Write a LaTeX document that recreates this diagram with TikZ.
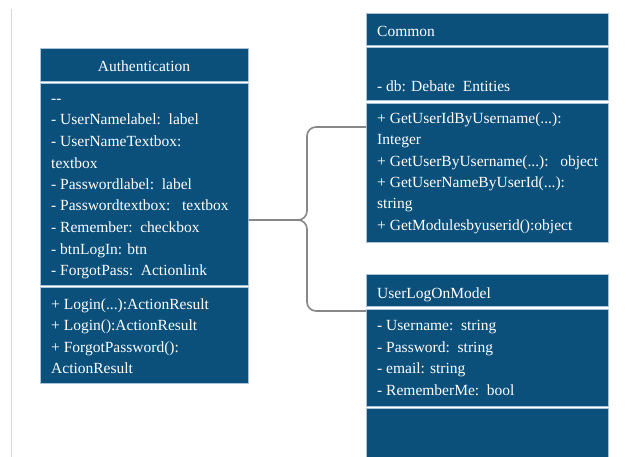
\documentclass[tikz,border=0pt]{standalone}
\usepackage{fontspec}
\setmainfont{Liberation Serif}
\definecolor{boxfill}{RGB}{11,79,123}
\definecolor{boxline}{RGB}{170,195,215}
\definecolor{connc}{RGB}{135,135,135}
\definecolor{rulec}{RGB}{216,216,216}
\tikzset{
  sec/.style={draw=boxline, fill=boxfill, line width=0.9pt, rectangle, inner sep=0pt, anchor=north west},
  txt/.style={text=white, font=\fontsize{15.5}{18}\selectfont, anchor=base west, inner sep=0pt, yshift=-1.5pt},
  hdr/.style={text=white, font=\fontsize{15.5}{18}\selectfont, anchor=base, inner sep=0pt, yshift=-1.5pt},
  conn/.style={draw=connc, line width=1.6pt, rounded corners=9pt}
}
\begin{document}
\begin{tikzpicture}[x=1pt,y=-1pt]
\clip (0,0) rectangle (634,457);
\fill[white] (0,0) rectangle (634,457);
\draw[rulec, line width=1.2pt] (11.5,9) -- (11.5,457);

% Authentication
\node[sec, minimum width=208pt, minimum height=33pt] (authH) at (40,48) {};
\node[sec, minimum width=208pt, minimum height=202pt] (authA) at (40,83) {};
\node[sec, minimum width=208pt, minimum height=96pt] (authM) at (40,287) {};
\node[hdr] (authT) at (144,70.5) {Authentication};
\node[txt] (authA1) at (51,102) {-{}-};
\node[txt] (authA2) at (51,123.5) {- UserNamelabel:\ \ label};
\node[txt] (authA3) at (51,145) {- UserNameTextbox:};
\node[txt] (authA4) at (51,166.5) {textbox};
\node[txt] (authA5) at (51,188) {- Passwordlabel:\ \ label};
\node[txt] (authA6) at (51,209.5) {- Passwordtextbox:\ \ \ textbox};
\node[txt] (authA7) at (51,231) {- Remember:\ \ checkbox};
\node[txt] (authA8) at (51,252.5) {- btnLogIn: btn};
\node[txt] (authA9) at (51,274) {- ForgotPass:\ \ Actionlink};
\node[txt] (authM1) at (51,307.5) {+ Login(...):ActionResult};
\node[txt] (authM2) at (51,329) {+ Login():ActionResult};
\node[txt] (authM3) at (51,350.5) {+ ForgotPassword():};
\node[txt] (authM4) at (51,372) {ActionResult};

% Common
\node[sec, minimum width=242pt, minimum height=32pt] (comH) at (366,13) {};
\node[sec, minimum width=242pt, minimum height=53pt] (comA) at (366,47) {};
\node[sec, minimum width=242pt, minimum height=139pt] (comM) at (366,103) {};
\node[txt] (comT) at (377,35) {Common};
\node[txt] (comA1) at (377,90.5) {- db: Debate\ \ Entities};
\node[txt] (comM1) at (377,122) {+ GetUserIdByUsername(...):};
\node[txt] (comM2) at (377,143.3) {Integer};
\node[txt] (comM3) at (377,164.6) {+ GetUserByUsername(...):\ \ \ object};
\node[txt] (comM4) at (377,185.9) {+ GetUserNameByUserId(...):};
\node[txt] (comM5) at (377,207.2) {string};
\node[txt] (comM6) at (377,228.5) {+ GetModulesbyuserid():object};

% UserLogOnModel
\node[sec, minimum width=242pt, minimum height=32pt] (ulH) at (366,274) {};
\node[sec, minimum width=242pt, minimum height=97pt] (ulA) at (366,308.5) {};
\node[sec, minimum width=242pt, minimum height=70pt] (ulM) at (366,408) {};
\node[txt] (ulT) at (377,296.5) {UserLogOnModel};
\node[txt] (ulA1) at (377,329) {- Username:\ \ string};
\node[txt] (ulA2) at (377,350.5) {- Password:\ \ string};
\node[txt] (ulA3) at (377,372) {- email: string};
\node[txt] (ulA4) at (377,393.5) {- RememberMe:\ \ bool};

% connectors
\coordinate (br) at (307,220);
\draw[conn] (authA.east |- br) -- (br) -- (br |- 0,127) -- (comM.west |- 0,127);
\draw[conn] (authA.east |- br) -- (br) -- (br |- 0,311) -- (ulA.west |- 0,311);
\end{tikzpicture}
\end{document}
